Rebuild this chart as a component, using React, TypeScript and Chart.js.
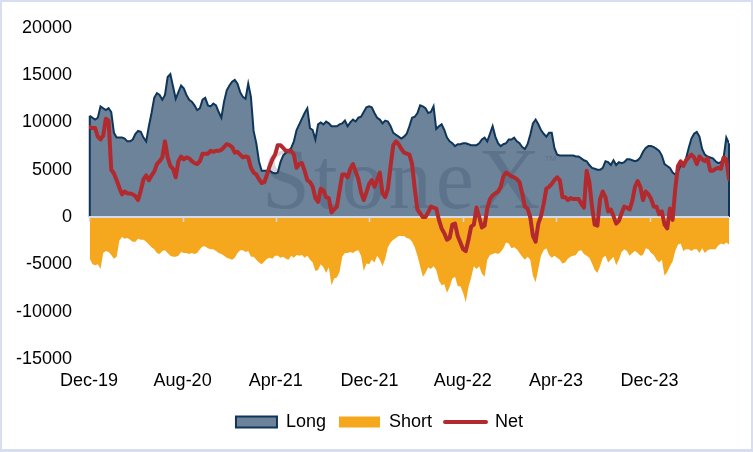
import { useEffect, useRef } from 'react';
import { Chart, registerables } from 'chart.js';

Chart.register(...registerables);

// ---- data (weekly, starting 2019-12-03) ----
const axisStartDate = '2019-12-01';
const seriesStartDate = '2019-12-03';
const tickDates = ['2019-12-01', '2020-08-01', '2021-04-01', '2021-12-01', '2022-08-01', '2023-04-01', '2023-12-01'];
const tickLabels = ['Dec-19', 'Aug-20', 'Apr-21', 'Dec-21', 'Aug-22', 'Apr-23', 'Dec-23'];
const yTickMin = -15000;
const yTickMax = 20000;
const yTickStep = 5000;

const longValues = [
  10700, 10500, 10300, 10500, 11700, 11500, 11300, 11500, 11100, 8900,
  8400, 8400, 8400, 8300, 8000, 8000, 8200, 8800, 9100, 9000,
  8400, 8000, 9600, 11000, 12600, 13100, 12900, 12400, 12900, 14800,
  15100, 13800, 12500, 13200, 13900, 13600, 12900, 12400, 12200, 11800,
  11300, 11500, 12400, 12600, 11800, 11700, 12000, 11800, 11100, 10500,
  12200, 13400, 13900, 14300, 14500, 14100, 13200, 12700, 12500, 14100,
  12700, 9100, 7800, 5900, 4900, 4900, 4900, 4900, 4700, 4600,
  4700, 5800, 6500, 6800, 7000, 7300, 8000, 9200, 9800, 10400,
  11000, 11500, 9400, 9200, 8200, 9800, 10000, 9800, 10100, 9900,
  9600, 9600, 9600, 9800, 9900, 10200, 9600, 10000, 10300, 10100,
  10500, 10600, 11100, 11600, 11700, 11600, 11000, 10500, 10300, 9900,
  10200, 10100, 9600, 8900, 8700, 8500, 8300, 8500, 8800, 9600,
  10500, 10600, 11000, 11800, 11700, 11500, 11000, 11100, 11700, 9300,
  9600, 9800, 9200, 8400, 8000, 7800, 7500, 7700, 7700, 7800,
  7800, 7700, 7600, 7600, 7600, 7800, 8200, 8400, 8000, 8800,
  9600, 8500, 7800, 7500, 7700, 7800, 8200, 8200, 8400, 8000,
  7800, 7400, 7200, 7700, 8700, 9900, 10300, 9800, 9200, 8800,
  8500, 8900, 8900, 7300, 6600, 6500, 6500, 6500, 6500, 6500,
  6500, 6400, 6400, 6200, 6000, 5900, 5500, 5200, 5100, 5000,
  5000, 5200, 5900, 5800, 5500, 6000, 5500, 5800, 5700, 5800,
  6100, 6100, 6000, 5900, 6000, 6300, 6900, 7300, 7500, 7500,
  7400, 7200, 7000, 6500, 5600, 5400, 5200, 4700, 4500, 4800,
  5500, 5600, 6200, 7300, 8300, 8800, 9000, 8500, 7200, 6600,
  6400, 6300, 6200, 5900, 5700, 5800, 6300, 8400, 7800,
];

const shortValues = [
  -4400, -5000, -5100, -5000, -5500, -3800, -3600, -3700, -4000, -4400,
  -4200, -2500, -2100, -2300, -2200, -2400, -2600, -2600, -2300, -2400,
  -2400, -2600, -2900, -3200, -3400, -3800, -3900, -3600, -3500, -3800,
  -4100, -4200, -4200, -4100, -3700, -3800, -3800, -3900, -3800, -3900,
  -3800, -3400, -3100, -3100, -3300, -3400, -3400, -3600, -3800, -3900,
  -4100, -4300, -4400, -4500, -4300, -3800, -3500, -3500, -3700, -3600,
  -4200, -4200, -4500, -4800, -5000, -4700, -4400, -4300, -4400, -4100,
  -4100, -4300, -4200, -4400, -4500, -4100, -4300, -4000, -4100, -4000,
  -4300, -4100, -4500, -4800, -5700, -5600, -5000, -5300, -5900, -5300,
  -7200, -6500, -6400, -5800, -4200, -3800, -3800, -3700, -3800, -3600,
  -3500, -4100, -5700, -4900, -5000, -4500, -4800, -4100, -4500, -5200,
  -4400, -3200, -2700, -2400, -2200, -2000, -2000, -2000, -2200, -2300,
  -2600, -3200, -4100, -5200, -6300, -5900, -5300, -5500, -5200, -5600,
  -6700, -7200, -7100, -8000, -7400, -6500, -6300, -7300, -7300, -8000,
  -9000, -7400, -6400, -5200, -5500, -5200, -6000, -6300, -4500, -4000,
  -3900, -3800, -3900, -3700, -3300, -2700, -2800, -3300, -3200, -3400,
  -3800, -4200, -4500, -4200, -4500, -6200, -6900, -5500, -4100, -3500,
  -3300, -4000, -4300, -4100, -4300, -4500, -4900, -4800, -4400, -4200,
  -4100, -4000, -3600, -3500, -3900, -4100, -4300, -4900, -5600, -5900,
  -5200, -4300, -4100, -4800, -4500, -4200, -5100, -4500, -3700, -3400,
  -3600, -4100, -3800, -3600, -3800, -4100, -4000, -3300, -3400, -3800,
  -4000, -4500, -4800, -4500, -6200, -5800, -5200, -4700, -3600, -2900,
  -2800, -3600, -3400, -3400, -3600, -3400, -3400, -3800, -3300, -3800,
  -3500, -3400, -3400, -3400, -3000, -2800, -2900, -2700, -2900,
];

const netValues = [
  9500, 9400, 9400, 8500, 8200, 8600, 10400, 10200, 5000, 4600,
  3900, 3100, 2400, 2700, 2500, 2500, 2400, 2200, 1800, 2800,
  4000, 4400, 3900, 4400, 4800, 5600, 5900, 6300, 8000, 6300,
  5400, 5100, 4200, 5900, 6400, 6100, 6300, 6200, 5900, 5700,
  5600, 5900, 6700, 6700, 6700, 7000, 6900, 7000, 7000, 7100,
  7400, 7700, 7600, 7400, 6800, 6900, 6600, 6300, 6400, 6300,
  5200, 4700, 4500, 4000, 3600, 3700, 4500, 5400, 6100, 6600,
  7600, 7600, 7300, 7000, 7000, 7000, 6600, 5200, 5600, 5700,
  4900, 3900, 3700, 3200, 2000, 1600, 3000, 2800, 2100, 2000,
  500, 800, 1100, 2800, 4500, 4500, 4200, 5100, 5600, 4800,
  4000, 2600, 1800, 2600, 3500, 3900, 3200, 3900, 4700, 2500,
  2100, 3000, 5400, 7600, 8000, 7700, 7200, 6800, 6700, 6600,
  5600, 3000, 800, 400, 0, 0, 500, 1100, 1000, 900,
  -300, -1200, -1700, -2400, -2200, -800, -700, -2000, -2700, -3400,
  -3600, -2400, -1000, -800, 1000, 0, -1100, -900, 900, 1900,
  2300, 2500, 2700, 3200, 4300, 4700, 4500, 4300, 4200, 4000,
  3700, 2500, 1100, 900, 0, -2000, -2600, -700, 100, 1400,
  3000, 3200, 3500, 3900, 4200, 3900, 2100, 2100, 1800, 2000,
  1900, 1900, 1900, 1400, 1000, 4900, 3700, 1100, -800, -900,
  1900, 2700, 2100, 600, 800, 100, -700, -400, 400, 1100,
  1000, 800, 1700, 3200, 3800, 3200, 1800, 2700, 2400, 1900,
  1100, 1100, 300, 600, -800, -1200, 900, -300, 3000, 5400,
  5900, 5400, 6000, 6300, 6600, 6300, 5600, 6400, 6100, 5900,
  6200, 4900, 4900, 5100, 5200, 5100, 6300, 6100, 4000,
];

// ---- styles ----
const LONG_FILL = '#6C8399';
const LONG_BORDER = '#0F365A';
const SHORT_FILL = '#F5A81E';
const NET_COLOR = '#B2292E';
const AXIS_COLOR = '#D6DBEC';
const FONT_FAMILY = '"Liberation Sans", Arial, Helvetica, sans-serif';

const DAY_MS = 86400000;
const dayOffset = (iso: string) => Math.round((Date.parse(iso) - Date.parse(axisStartDate)) / DAY_MS);
const firstDay = dayOffset(seriesStartDate);
const toPoints = (vals: number[]) => vals.map((v, i) => ({ x: firstDay + 7 * i, y: v }));
const lastDay = firstDay + 7 * (longValues.length - 1);
const tickDays = tickDates.map(dayOffset);

const overlayPlugin = {
  id: 'overlayPlugin',
  afterLayout(chart: any) {
    // nudge the centred legend to sit where the original's does
    if (chart.legend) {
      chart.legend.left += 11;
      chart.legend.right += 11;
    }
  },
  afterDatasetDraw(chart: any, args: any) {
    if (args.index !== 0) return;
    const { ctx } = chart;
    const yScale = chart.scales.y;
    const pts = chart.getDatasetMeta(0).data;
    if (!pts.length) return;
    const y0 = yScale.getPixelForValue(0);
    const first = pts[0];
    const last = pts[pts.length - 1];
    ctx.save();
    ctx.strokeStyle = LONG_BORDER;
    ctx.lineWidth = 2;
    ctx.beginPath();
    ctx.moveTo(first.x, y0);
    ctx.lineTo(first.x, first.y);
    ctx.moveTo(last.x, y0);
    ctx.lineTo(last.x, last.y);
    ctx.stroke();
    ctx.restore();
  },
  beforeDatasetDraw(chart: any, args: any) {
    if (args.index !== 2) return;
    const { ctx, chartArea } = chart;
    const xScale = chart.scales.x;
    const yScale = chart.scales.y;
    const y0 = yScale.getPixelForValue(0);
    // watermark
    ctx.save();
    ctx.fillStyle = 'rgba(25, 45, 75, 0.18)';
    ctx.font = '86px "Liberation Serif", "Times New Roman", serif';
    ctx.textBaseline = 'alphabetic';
    ctx.textAlign = 'left';
    try { (ctx as any).letterSpacing = '4px'; } catch (e) { /* ignore */ }
    ctx.fillText('StoneX', chartArea.left + 173, y0 - 9);
    try { (ctx as any).letterSpacing = '0px'; } catch (e) { /* ignore */ }
    ctx.font = '13px "Liberation Sans", Arial, sans-serif';
    ctx.fillText('™', chartArea.left + 455, y0 - 52);
    ctx.restore();
    // zero axis line and tick marks
    ctx.save();
    ctx.strokeStyle = AXIS_COLOR;
    ctx.lineWidth = 2;
    ctx.beginPath();
    ctx.moveTo(chartArea.left, y0);
    ctx.lineTo(chartArea.right, y0);
    ctx.stroke();
    ctx.lineWidth = 1.5;
    ctx.beginPath();
    xScale.ticks.forEach((t: any) => {
      const px = Math.round(xScale.getPixelForValue(t.value)) + 0.5;
      ctx.moveTo(px, y0);
      ctx.lineTo(px, y0 + 5);
    });
    ctx.stroke();
    ctx.restore();
  },
};

export default function App() {
  const canvasRef = useRef<HTMLCanvasElement | null>(null);

  useEffect(() => {
    document.body.style.margin = '0';
    const canvas = canvasRef.current;
    if (!canvas) return;
    const font = { family: FONT_FAMILY, size: 18 };
    const chart = new Chart(canvas, {
      type: 'line',
      data: {
        datasets: [
          {
            label: 'Long',
            data: toPoints(longValues),
            backgroundColor: LONG_FILL,
            borderColor: LONG_BORDER,
            borderWidth: 2,
            fill: 'origin',
            pointRadius: 0,
            tension: 0,
            order: 2,
          },
          {
            label: 'Short',
            data: toPoints(shortValues),
            backgroundColor: SHORT_FILL,
            borderColor: SHORT_FILL,
            borderWidth: 0,
            fill: 'origin',
            pointRadius: 0,
            tension: 0,
            order: 1,
          },
          {
            label: 'Net',
            data: toPoints(netValues),
            borderColor: NET_COLOR,
            backgroundColor: NET_COLOR,
            borderWidth: 4,
            borderJoinStyle: 'round',
            borderCapStyle: 'round',
            fill: false,
            pointRadius: 0,
            tension: 0,
            order: 0,
          },
        ],
      } as any,
      options: {
        animation: false,
        responsive: false,
        events: [],
        layout: { padding: { left: 8, right: 24, top: 23, bottom: 11 } },
        scales: {
          x: {
            type: 'linear',
            min: 0,
            max: lastDay,
            grid: { display: false, drawTicks: false },
            border: { display: false },
            afterBuildTicks: (axis: any) => {
              axis.ticks = tickDays.map((v) => ({ value: v }));
            },
            afterFit: (axis: any) => {
              axis.height = 41;
            },
            ticks: {
              autoSkip: false,
              maxRotation: 0,
              padding: 11,
              color: '#000',
              font,
              callback: (_v: any, i: number) => tickLabels[i] ?? '',
            },
          },
          y: {
            min: yTickMin,
            max: yTickMax,
            grid: { display: false, drawTicks: false },
            border: { display: false },
            afterFit: (axis: any) => {
              axis.width = 81;
            },
            ticks: {
              stepSize: yTickStep,
              padding: 17,
              color: '#000',
              font,
              callback: (v: any) => String(v),
            },
          },
        },
        plugins: {
          tooltip: { enabled: false },
          legend: {
            position: 'bottom',
            labels: {
              usePointStyle: true,
              pointStyleWidth: 41,
              boxWidth: 41,
              boxHeight: 11,
              padding: 13,
              color: '#000',
              font,
              generateLabels: () => [
                { text: 'Long', fillStyle: LONG_FILL, strokeStyle: LONG_BORDER, lineWidth: 2, pointStyle: 'rect', datasetIndex: 0, hidden: false, fontColor: '#000' },
                { text: 'Short', fillStyle: SHORT_FILL, strokeStyle: SHORT_FILL, lineWidth: 0, pointStyle: 'rect', datasetIndex: 1, hidden: false, fontColor: '#000' },
                { text: 'Net', fillStyle: NET_COLOR, strokeStyle: NET_COLOR, lineWidth: 4, lineCap: 'round', pointStyle: 'line', datasetIndex: 2, hidden: false, fontColor: '#000' },
              ],
            },
          },
        },
      } as any,
      plugins: [overlayPlugin as any],
    });
    return () => chart.destroy();
  }, []);

  return (
    <div style={{ position: 'absolute', left: 0, top: 0, width: 753, height: 452, background: '#fff' }}>
      <canvas ref={canvasRef} width={753} height={452} style={{ width: 753, height: 452, display: 'block' }} />
      <div
        style={{
          position: 'absolute',
          left: 0,
          top: 0,
          width: 753,
          height: 452,
          boxSizing: 'border-box',
          borderStyle: 'solid',
          borderColor: '#D8DDEF',
          borderWidth: '2px 2px 3px 2px',
          pointerEvents: 'none',
        }}
      />
    </div>
  );
}
